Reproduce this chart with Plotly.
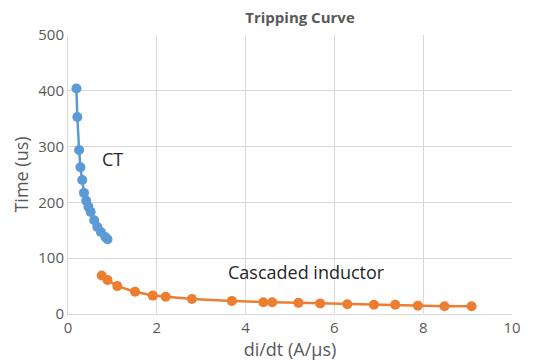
import plotly.graph_objects as go

ct_x = [0.19, 0.21, 0.25, 0.28, 0.32, 0.36, 0.41, 0.46, 0.51, 0.59, 0.66, 0.74, 0.84, 0.89]
ct_y = [404, 353, 294, 263, 240, 217, 203, 192, 183, 168, 156, 147, 138, 134]

ci_x = [0.76, 0.89, 1.11, 1.51, 1.91, 2.20, 2.79, 3.69, 4.40, 4.60, 5.19, 5.68, 6.29, 6.89, 7.37, 7.88, 8.48, 9.09]
ci_y = [69, 61, 50, 40, 33, 31, 27, 23.5, 21, 21, 20, 19, 17.6, 16.5, 16.5, 15, 14, 14]

title = "Tripping Curve"
x_title = "di/dt (A/µs)"
y_title = "Time (us)"

gray = "#595959"
font = "Open Sans"

fig = go.Figure()
fig.add_trace(go.Scatter(x=ct_x, y=ct_y, mode="lines+markers", name="CT",
                         line=dict(color="#5B9BD5", width=2.5),
                         marker=dict(color="#5B9BD5", size=10)))
fig.add_trace(go.Scatter(x=ci_x, y=ci_y, mode="lines+markers", name="Cascaded inductor",
                         line=dict(color="#ED7D31", width=2.5),
                         marker=dict(color="#ED7D31", size=10)))

fig.add_annotation(x=0.72, y=278, text="CT", showarrow=False, xanchor="left",
                   font=dict(family=font, size=18, color="#262626"))
fig.add_annotation(x=5.38, y=76, text="Cascaded inductor", showarrow=False,
                   font=dict(family=font, size=18, color="#262626"))

fig.update_layout(
    width=533, height=364,
    margin=dict(l=68, r=21, t=35, b=48),
    paper_bgcolor="white", plot_bgcolor="white",
    showlegend=False,
    title=dict(text="<b>" + title + "</b>", x=300 / 533, xanchor="center",
               y=1 - 18 / 364, yanchor="middle",
               font=dict(family=font, size=15, color=gray)),
    font=dict(family=font, color=gray),
)
fig.update_xaxes(range=[0, 10], dtick=2, showgrid=True, gridcolor="#D9D9D9", gridwidth=1,
                 zeroline=False, showline=True, linecolor="#D9D9D9", mirror=False,
                 ticks="", tickfont=dict(family=font, size=15, color=gray),
                 title=dict(text=x_title, standoff=2, font=dict(family=font, size=18, color=gray)))
fig.update_yaxes(range=[0, 500], dtick=100, showgrid=True, gridcolor="#D9D9D9", gridwidth=1,
                 zeroline=False, showline=True, linecolor="#D9D9D9",
                 ticks="", tickfont=dict(family=font, size=15, color=gray),
                 title=dict(text=y_title, standoff=4, font=dict(family=font, size=18, color=gray)))

fig.write_html("out.html")
